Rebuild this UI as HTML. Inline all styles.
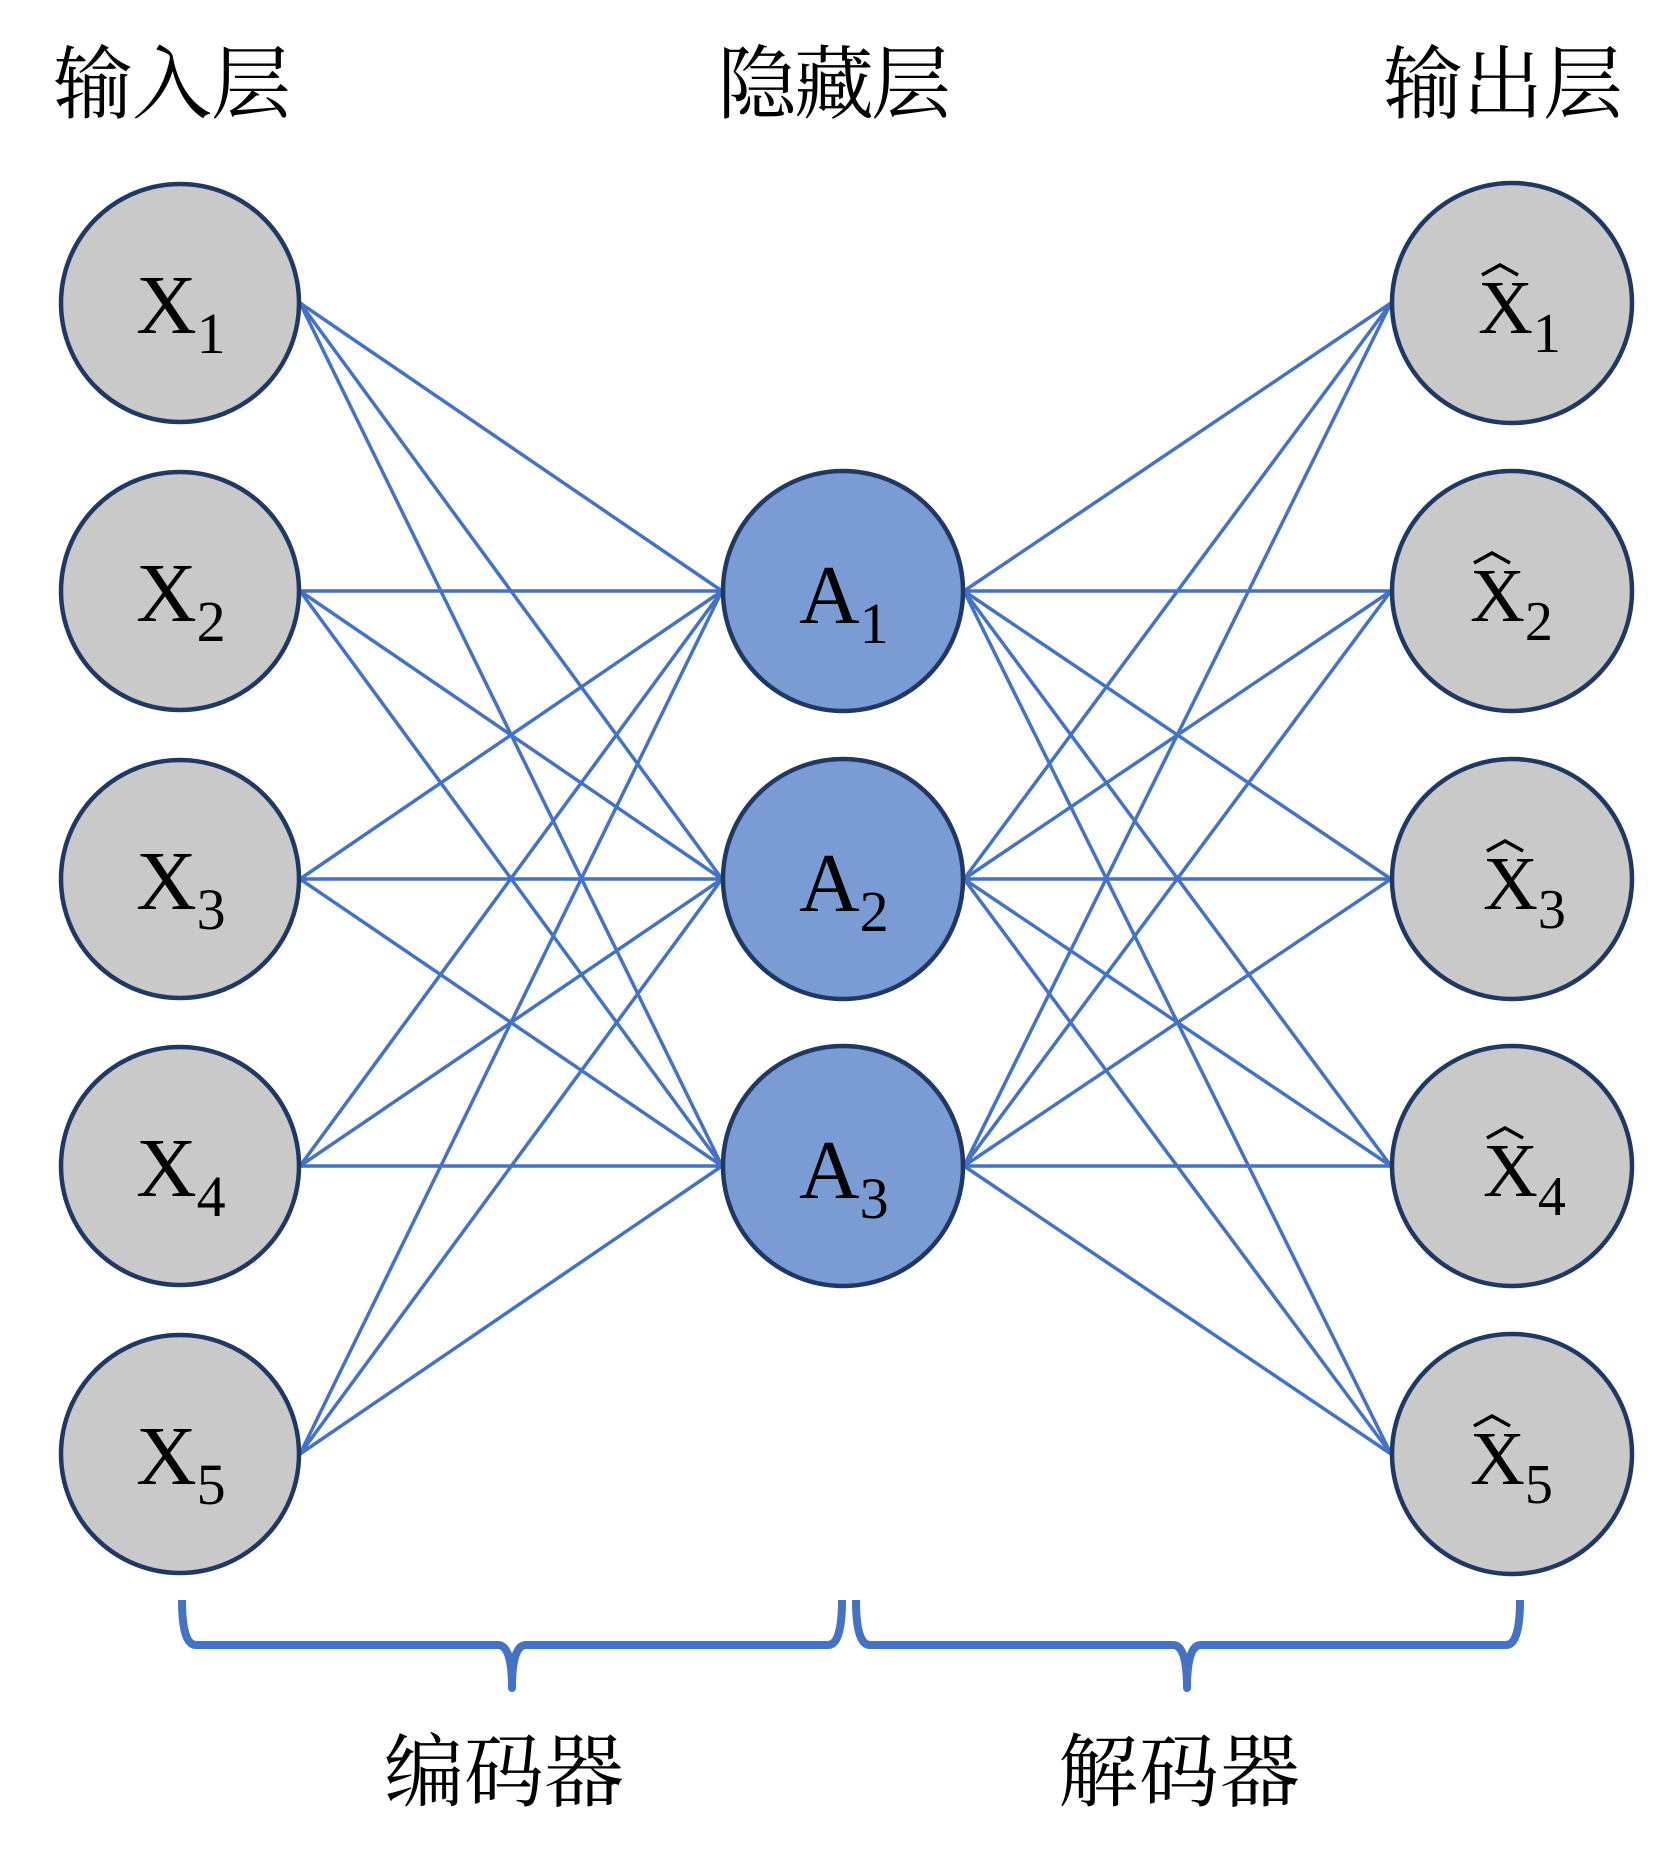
<!DOCTYPE html>
<html><head><meta charset="utf-8"><style>html,body{margin:0;padding:0;background:#fff}svg{display:block}</style></head>
<body>
<svg width="1679" height="1867" viewBox="0 0 1679 1867" xmlns="http://www.w3.org/2000/svg">
<g font-family="'Liberation Serif','Noto Serif CJK SC',serif" font-size="80" fill="#000">
<text x="53" y="112" textLength="238">输入层</text>
<text x="717" y="112" textLength="234">隐藏层</text>
<text x="1383" y="112" textLength="240">输出层</text>
<text x="384" y="1800" textLength="240">编码器</text>
<text x="1058" y="1800" textLength="242">解码器</text>
</g>
<g stroke="#4472C4" stroke-width="3.5" fill="none">
<path d="M300 303L722 591M300 303L722 879M300 303L722 1166
M300 591L722 591M300 591L722 879M300 591L722 1166
M300 879L722 591M300 879L722 879M300 879L722 1166
M300 1166L722 591M300 1166L722 879M300 1166L722 1166
M300 1454L722 591M300 1454L722 879M300 1454L722 1166"/>
<path d="M964 591L1391 303M964 591L1391 591M964 591L1391 879M964 591L1391 1166M964 591L1391 1454
M964 879L1391 303M964 879L1391 591M964 879L1391 879M964 879L1391 1166M964 879L1391 1454
M964 1166L1391 303M964 1166L1391 591M964 1166L1391 879M964 1166L1391 1166M964 1166L1391 1454"/>
</g>
<g stroke="#4472C4" stroke-width="8" fill="none" stroke-linejoin="round">
<path d="M182 1600 Q182 1645 196 1645 L498 1645 Q512 1645 512 1688 Q512 1645 526 1645 L828 1645 Q842 1645 842 1600"/>
<path d="M856 1600 Q856 1645 870 1645 L1173 1645 Q1187 1645 1187 1688 Q1187 1645 1201 1645 L1506 1645 Q1520 1645 1520 1600"/>
</g>
<g stroke="#1F3864" stroke-width="4.5">
<circle cx="180" cy="303" r="119" fill="#C9C9C9"/>
<circle cx="180" cy="591" r="119" fill="#C9C9C9"/>
<circle cx="180" cy="879" r="119" fill="#C9C9C9"/>
<circle cx="180" cy="1166" r="119" fill="#C9C9C9"/>
<circle cx="180" cy="1454" r="119" fill="#C9C9C9"/>
<circle cx="843" cy="591" r="120" fill="#7B9BD5"/>
<circle cx="843" cy="879" r="120" fill="#7B9BD5"/>
<circle cx="843" cy="1166" r="120" fill="#7B9BD5"/>
<circle cx="1512" cy="303" r="120" fill="#C9C9C9"/>
<circle cx="1512" cy="591" r="120" fill="#C9C9C9"/>
<circle cx="1512" cy="879" r="120" fill="#C9C9C9"/>
<circle cx="1512" cy="1166" r="120" fill="#C9C9C9"/>
<circle cx="1512" cy="1454" r="120" fill="#C9C9C9"/>
</g>
<g font-family="'Liberation Serif',serif" fill="#000">
<text x="136" y="333" font-size="84">X<tspan font-size="58" dy="20">1</tspan></text>
<text x="136" y="621" font-size="84">X<tspan font-size="58" dy="20">2</tspan></text>
<text x="136" y="909" font-size="84">X<tspan font-size="58" dy="20">3</tspan></text>
<text x="136" y="1196" font-size="84">X<tspan font-size="58" dy="20">4</tspan></text>
<text x="136" y="1484" font-size="84">X<tspan font-size="58" dy="20">5</tspan></text>
<text x="799" y="623" font-size="84">A<tspan font-size="58" dy="20">1</tspan></text>
<text x="799" y="911" font-size="84">A<tspan font-size="58" dy="20">2</tspan></text>
<text x="799" y="1198" font-size="84">A<tspan font-size="58" dy="20">3</tspan></text>
</g>
<g font-family="'Liberation Serif',serif" fill="#000">
<text x="1478" y="333" font-size="76">X<tspan font-size="56" dy="19">1</tspan></text>
<text x="1470" y="621" font-size="76">X<tspan font-size="56" dy="19">2</tspan></text>
<text x="1483" y="909" font-size="76">X<tspan font-size="56" dy="19">3</tspan></text>
<text x="1483" y="1196" font-size="76">X<tspan font-size="56" dy="19">4</tspan></text>
<text x="1470" y="1484" font-size="76">X<tspan font-size="56" dy="19">5</tspan></text>
</g>
<g stroke="#000" stroke-width="3.5" fill="none">
<path d="M1482 275 L1500 265 L1518 275"/>
<path d="M1474 563 L1492 553 L1510 563"/>
<path d="M1487 851 L1505 841 L1523 851"/>
<path d="M1487 1138 L1505 1128 L1523 1138"/>
<path d="M1474 1426 L1492 1416 L1510 1426"/>
</g>
</svg>
</body></html>
